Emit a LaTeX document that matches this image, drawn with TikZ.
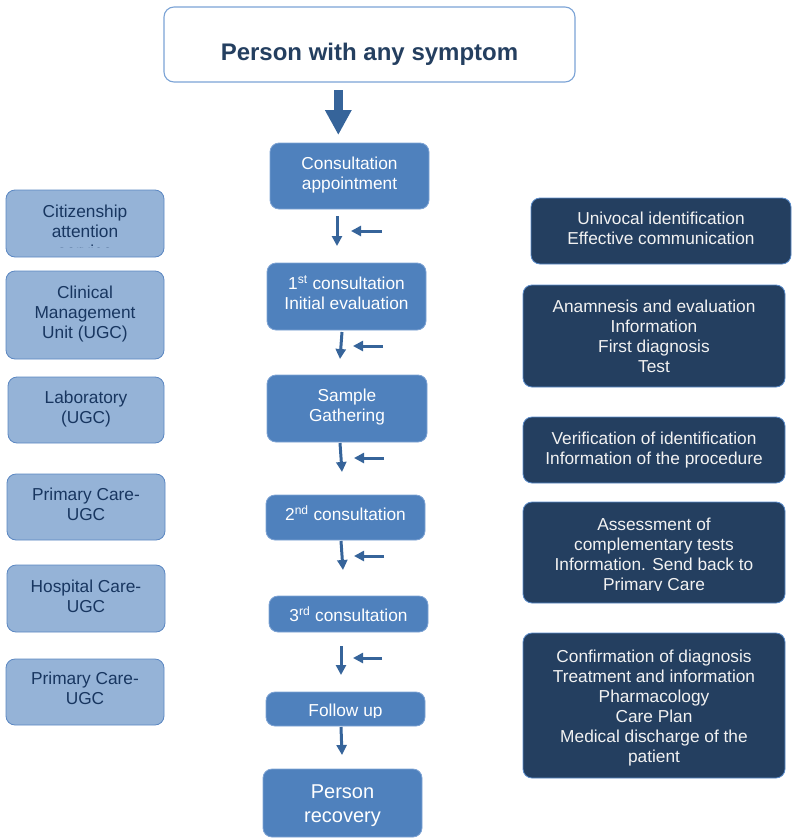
\documentclass[tikz,border=0pt]{standalone}
\usepackage{fontspec}
\setmainfont{Liberation Sans}
\usetikzlibrary{arrows.meta}

\definecolor{midblue}{HTML}{4F81BD}
\definecolor{midedge}{HTML}{7EA3D4}
\definecolor{paleblue}{HTML}{95B3D7}
\definecolor{paleedge}{HTML}{5B87C2}
\definecolor{navy}{HTML}{243F60}
\definecolor{navyedge}{HTML}{5B8CCB}
\definecolor{inktext}{HTML}{183660}
\definecolor{arrowblue}{HTML}{36649A}
\definecolor{titleedge}{HTML}{7BA3D6}
\definecolor{titleink}{HTML}{243F60}

\begin{document}
\begin{tikzpicture}[x=1pt,y=-1pt,
  boxbase/.style={rounded corners=9pt, line width=0.8pt, inner sep=0pt},
  stepbox/.style={boxbase, fill=midblue, draw=midedge},
  unitbox/.style={boxbase, fill=paleblue, draw=paleedge},
  notebox/.style={boxbase, fill=navy, draw=navyedge},
  label text/.style={align=center, inner sep=0pt, font=\fontsize{17.3}{20}\selectfont},
  steptext/.style={label text, text=white},
  unittext/.style={label text, text=inktext},
  notetext/.style={label text, text=white!95!black},
  flow/.style={draw=arrowblue, line width=3pt, -{Triangle[width=10pt,length=10pt]}},
]
\useasboundingbox (0,0) rectangle (793,838);

% ---- title ----
\node[boxbase, fill=white, draw=titleedge, line width=1.1pt, rounded corners=10pt,
      minimum width=411pt, minimum height=75pt] (title) at (369.5,44.5) {};
\node[inner sep=0pt, text=titleink, font=\fontsize{24}{28}\selectfont\bfseries]
      (titletext) at (369.5,54) {Person with any symptom};

% ---- central steps ----
\node[stepbox, minimum width=159pt, minimum height=66pt] (c1) at (349.5,176) {};
\node[steptext] (c1text) at (349.5,175) {Consultation\\appointment};
\node[stepbox, minimum width=159pt, minimum height=67pt] (c2) at (346.5,296.5) {};
\node[steptext] (c2text) at (346.5,292.5) {1\textsuperscript{st} consultation\\Initial evaluation};
\node[stepbox, minimum width=160pt, minimum height=67pt] (c3) at (347,408.5) {};
\node[steptext] (c3text) at (347,407.5) {Sample\\Gathering};
\node[stepbox, minimum width=159pt, minimum height=45pt] (c4) at (345.5,517.5) {};
\node[steptext] (c4text) at (345.5,513.5) {2\textsuperscript{nd} consultation};
\node[stepbox, minimum width=159pt, minimum height=36pt] (c5) at (348.5,614) {};
\node[steptext] (c5text) at (348.5,614) {3\textsuperscript{rd} consultation};
\node[stepbox, minimum width=159pt, minimum height=34pt] (c6) at (345.5,709) {};
\begin{scope}
  \clip (266,692) rectangle (425,717.5);
  \node[steptext] (c6text) at (345.5,712.3) {Follow up};
\end{scope}
\node[stepbox, minimum width=159pt, minimum height=68pt] (c7) at (342.5,803) {};
\node[steptext, font=\fontsize{20}{24}\selectfont] (c7text) at (342.5,806) {Person\\recovery};

% ---- units on the left ----
\node[unitbox, minimum width=158pt, minimum height=67pt] (l1) at (85,223.5) {};
\begin{scope}
  \clip (6,190) rectangle (164,247.5);
  \node[unittext] (l1text) at (85,231) {Citizenship\\attention\\service};
\end{scope}
\node[unitbox, minimum width=158pt, minimum height=88pt] (l2) at (85,315) {};
\node[unittext] (l2text) at (85,314) {Clinical\\Management\\Unit (UGC)};
\node[unitbox, minimum width=156pt, minimum height=66pt] (l3) at (86,410) {};
\node[unittext] (l3text) at (86,409) {Laboratory\\(UGC)};
\node[unitbox, minimum width=158pt, minimum height=66pt] (l4) at (86,507) {};
\node[unittext] (l4text) at (86,504) {Primary Care-\\UGC};
\node[unitbox, minimum width=158pt, minimum height=67pt] (l5) at (86,598.5) {};
\node[unittext] (l5text) at (86,596) {Hospital Care-\\UGC};
\node[unitbox, minimum width=158pt, minimum height=66pt] (l6) at (85,692) {};
\node[unittext] (l6text) at (85,688.5) {Primary Care-\\UGC};

% ---- notes on the right ----
\node[notebox, minimum width=260pt, minimum height=66pt] (r1) at (661,231) {};
\node[notetext] (r1text) at (661,228.5) {Univocal identification\\Effective communication};
\node[notebox, minimum width=262pt, minimum height=102pt] (r2) at (654,336) {};
\node[notetext] (r2text) at (654,336) {Anamnesis and evaluation\\Information\\First diagnosis\\Test};
\node[notebox, minimum width=262pt, minimum height=66pt] (r3) at (654,450) {};
\node[notetext] (r3text) at (654,450) {Verification of identification\\Information of the procedure};
\node[notebox, minimum width=262pt, minimum height=101pt] (r4) at (654,552.5) {};
\begin{scope}
  \clip (523,502) rectangle (785,590);
  \node[notetext] (r4text) at (654,556)
    {Assessment of\\complementary tests\\Information. Send back to\\Primary Care};
\end{scope}
\node[notebox, minimum width=262pt, minimum height=145pt] (r5) at (654,705.5) {};
\node[notetext] (r5text) at (654,708.5)
  {Confirmation of diagnosis\\Treatment and information\\Pharmacology\\Care Plan\\Medical discharge of the\\patient};

% ---- arrows ----
\coordinate (bigS) at (338.3,90);
\coordinate (bigE) at (338.3,135);
\draw[arrowblue, line width=9pt, -{Triangle[width=25pt,length=25pt]}] (bigS) -- (bigE);

\coordinate (d1s) at (337,216);   \coordinate (d1e) at (337,246);
\coordinate (h1s) at (382,231);   \coordinate (h1e) at (351,231);
\coordinate (d2s) at (342,332);   \coordinate (d2e) at (340,359);
\coordinate (h2s) at (383,346);   \coordinate (h2e) at (353,346);
\coordinate (d3s) at (340,443);   \coordinate (d3e) at (342,472);
\coordinate (h3s) at (384,458);   \coordinate (h3e) at (354,458);
\coordinate (d4s) at (341,541);   \coordinate (d4e) at (343,570);
\coordinate (h4s) at (384,556);   \coordinate (h4e) at (354,556);
\coordinate (d5s) at (341,646);   \coordinate (d5e) at (341,675);
\coordinate (h5s) at (382,658);   \coordinate (h5e) at (353,658);
\coordinate (d6s) at (341,727);   \coordinate (d6e) at (342,755);

\foreach \k in {1,...,6} { \draw[flow] (d\k s) -- (d\k e); }
\foreach \k in {1,...,5} { \draw[flow] (h\k s) -- (h\k e); }
\end{tikzpicture}
\end{document}
